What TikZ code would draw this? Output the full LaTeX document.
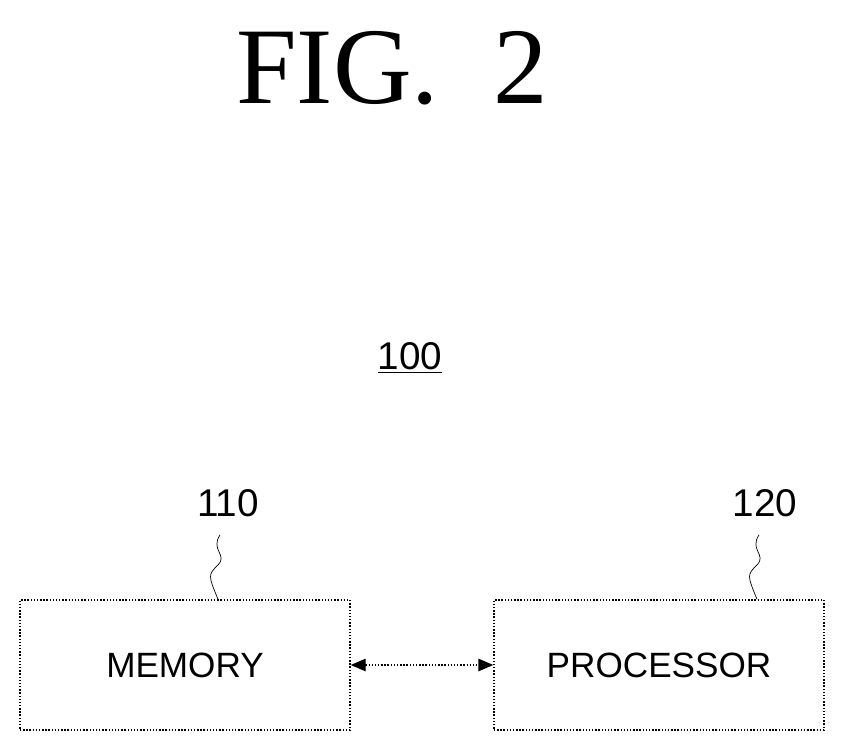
\documentclass[tikz,border=0pt]{standalone}
\usepackage{fontspec}
\setmainfont{Liberation Serif}
\setsansfont{Liberation Sans}
\usetikzlibrary{arrows.meta,positioning}
\tikzset{
  block/.style={draw, thick, densely dotted, minimum width=330*0.02cm, minimum height=130*0.02cm, font=\sffamily\fontsize{20}{20}\selectfont},
  refnum/.style={font=\sffamily\fontsize{22}{22}\selectfont},
  leader/.style={thin},
  link/.style={{Triangle[length=3mm,width=2.5mm]}-{Triangle[length=3mm,width=2.5mm]}, densely dotted, thick}
}
\begin{document}
\begin{tikzpicture}[x=0.02cm,y=-0.02cm]
\useasboundingbox (0,0) rectangle (847,746);

\node (title) at (392,68) {\fontsize{62}{62}\selectfont FIG.~~2};
\node[refnum] (sys) at (410,358) {\underline{100}};

% blocks
\node[block] (mem) at (185,665) {MEMORY};
\node[block] (proc) at (659,665) {PROCESSOR};
\node[refnum] (memnum) at (228,503) {110};
\node[refnum] (procnum) at (765,503) {120};

% leaders
\draw[leader] (memnum.south) ++(-8,12) coordinate (m1)
  .. controls ++(-10,15) and ++(10,-10) .. ++(-2,30) coordinate (m2)
  .. controls ++(-10,10) .. (m2 |- mem.north);
\draw[leader] (procnum.south) ++(-6,12) coordinate (p1)
  .. controls ++(-10,15) and ++(10,-10) .. ++(-2,30) coordinate (p2)
  .. controls ++(-10,10) .. (p2 |- proc.north);

% connection
\draw[link] (mem.east) -- (proc.west);
\end{tikzpicture}
\end{document}
